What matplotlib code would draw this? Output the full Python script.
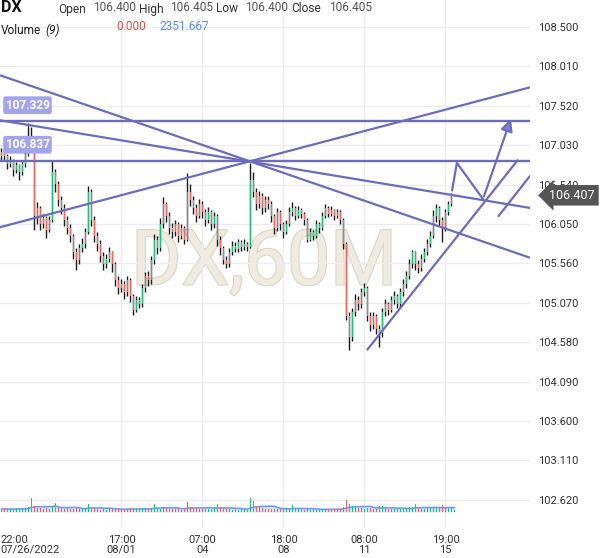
import numpy as np
import pandas as pd
import matplotlib
matplotlib.use("Agg")
import matplotlib.pyplot as plt
import matplotlib.patheffects as pe
from matplotlib.patches import FancyArrowPatch
from matplotlib.transforms import ScaledTranslation

plt.rcParams['font.family'] = ['Roboto', 'DejaVu Sans']

# DX 60-minute candles (one entry per bar)
first_open = 106.90
closes = [106.95, 106.90, 106.80, 106.85, 106.72, 106.78, 106.70, 106.80, 106.92, 107.15,
          107.12, 106.15, 106.25, 106.05, 106.12, 105.98, 106.10, 106.70, 106.55, 106.35,
          106.25, 106.10, 106.00, 105.90, 105.70, 105.60, 105.75, 105.80, 105.95, 106.45,
          106.10, 105.90, 105.80, 105.65, 105.55, 105.62, 105.70, 105.55, 105.35, 105.25,
          105.30, 105.20, 105.35, 105.15, 104.98, 105.10, 105.05, 105.25, 105.40, 105.35,
          105.60, 105.85, 105.75, 106.05, 106.30, 106.15, 106.00, 105.95, 106.05, 105.90,
          106.00, 105.85, 106.45, 106.35, 106.25, 106.15, 106.30, 106.20, 106.10, 106.20,
          106.05, 106.15, 105.85, 105.75, 105.60, 105.55, 105.70, 105.78, 105.74, 105.82,
          105.76, 105.80, 105.77, 106.60, 106.45, 106.30, 106.40, 106.25, 106.35, 106.30,
          106.15, 106.00, 106.20, 106.05, 105.95, 106.05, 106.20, 106.25, 106.15, 106.22,
          106.18, 106.10, 105.85, 105.95, 105.90, 106.05, 106.00, 106.15, 106.25, 106.18,
          106.22, 106.15, 106.20, 106.10, 105.80, 104.90, 104.65, 104.95, 105.10, 105.05,
          105.20, 105.25, 104.90, 104.80, 104.90, 104.75, 104.70, 104.95, 105.05, 104.98,
          105.10, 105.15, 105.05, 105.20, 105.30, 105.40, 105.55, 105.70, 105.55, 105.50,
          105.62, 105.70, 105.80, 105.90, 106.15, 106.25, 106.10, 106.00, 106.20, 106.30,
          106.40, 106.405]
highs = [107.00, 106.98, 106.92, 106.90, 106.86, 106.82, 106.80, 106.84, 106.98, 107.30,
         107.26, 107.14, 106.32, 106.28, 106.18, 106.15, 106.15, 106.84, 106.74, 106.58,
         106.40, 106.30, 106.15, 106.05, 105.92, 105.75, 105.80, 105.88, 106.00, 106.52,
         106.48, 106.15, 105.95, 105.85, 105.70, 105.68, 105.76, 105.72, 105.58, 105.40,
         105.36, 105.34, 105.40, 105.38, 105.18, 105.15, 105.14, 105.30, 105.45, 105.46,
         105.65, 105.92, 105.90, 106.12, 106.39, 106.32, 106.20, 106.06, 106.10, 106.08,
         106.05, 106.03, 106.68, 106.55, 106.40, 106.30, 106.36, 106.34, 106.24, 106.26,
         106.22, 106.20, 106.18, 105.90, 105.78, 105.65, 105.75, 105.84, 105.82, 105.86,
         105.85, 105.86, 105.83, 106.81, 106.70, 106.50, 106.46, 106.44, 106.40, 106.40,
         106.33, 106.18, 106.25, 106.22, 106.08, 106.10, 106.26, 106.32, 106.28, 106.27,
         106.25, 106.20, 106.12, 106.00, 105.98, 106.10, 106.08, 106.20, 106.30, 106.28,
         106.27, 106.24, 106.24, 106.22, 106.12, 105.82, 104.95, 105.00, 105.18, 105.15,
         105.26, 105.32, 105.28, 104.95, 104.96, 104.93, 104.80, 105.00, 105.12, 105.08,
         105.16, 105.22, 105.18, 105.25, 105.36, 105.46, 105.62, 105.73, 105.72, 105.60,
         105.68, 105.75, 105.86, 105.96, 106.22, 106.30, 106.28, 106.14, 106.24, 106.34,
         106.44, 106.405]
lows = [106.85, 106.84, 106.74, 106.76, 106.65, 106.68, 106.60, 106.66, 106.76, 106.90,
        107.02, 105.98, 106.05, 105.98, 106.00, 105.88, 105.95, 106.08, 106.45, 106.28,
        106.18, 106.02, 105.92, 105.82, 105.62, 105.48, 105.55, 105.70, 105.75, 105.92,
        106.02, 105.82, 105.72, 105.58, 105.48, 105.50, 105.58, 105.45, 105.28, 105.18,
        105.20, 105.12, 105.16, 105.08, 104.92, 104.95, 105.00, 105.02, 105.20, 105.28,
        105.30, 105.55, 105.68, 105.72, 106.00, 106.08, 105.93, 105.88, 105.90, 105.83,
        105.86, 105.80, 105.84, 106.28, 106.18, 106.08, 106.12, 106.12, 106.02, 106.06,
        105.98, 106.00, 105.78, 105.66, 105.55, 105.50, 105.52, 105.66, 105.70, 105.70,
        105.72, 105.73, 105.72, 105.75, 106.38, 106.22, 106.25, 106.18, 106.20, 106.24,
        106.08, 105.92, 105.96, 105.98, 105.88, 105.92, 106.02, 106.15, 106.10, 106.12,
        106.12, 106.04, 105.82, 105.84, 105.85, 105.88, 105.94, 105.98, 106.12, 106.14,
        106.15, 106.10, 106.12, 106.05, 105.74, 104.85, 104.48, 104.60, 104.90, 104.98,
        105.00, 105.15, 104.84, 104.72, 104.74, 104.68, 104.52, 104.65, 104.90, 104.92,
        104.95, 105.05, 105.00, 105.02, 105.16, 105.26, 105.36, 105.50, 105.48, 105.44,
        105.46, 105.58, 105.66, 105.76, 105.88, 106.08, 106.02, 105.83, 105.96, 106.16,
        106.28, 106.40]
volumes = [1400, 1800, 1200, 1600, 1300, 1900, 1500, 1700, 2200, 2600,
           7000, 3200, 2100, 1800, 1500, 1900, 1600, 3000, 4500, 2400,
           1800, 1500, 1900, 1400, 1700, 2100, 1600, 1300, 1800, 4000,
           2600, 1900, 1500, 1200, 1400, 1100, 1600, 1300, 1500, 1800,
           1400, 1200, 1600, 1900, 1500, 1300, 1700, 2000, 1600, 1400,
           2200, 3800, 2000, 1700, 2500, 1900, 1500, 1300, 1600, 1400,
           1200, 1500, 4800, 2600, 2200, 1800, 1500, 1300, 1600, 1400,
           1700, 2400, 4000, 2300, 1800, 1500, 1300, 1200, 1400, 1100,
           1300, 1500, 1600, 6800, 5500, 3000, 2400, 2000, 1700, 1500,
           1400, 1600, 1300, 1500, 1800, 1400, 1600, 3500, 1900, 1500,
           1300, 1200, 1400, 1100, 1300, 1200, 1500, 1400, 1600, 1300,
           1200, 1400, 1300, 1500, 2400, 6000, 4200, 3000, 2400, 2000,
           1800, 1600, 2200, 1900, 1700, 1500, 3200, 2800, 2000, 1700,
           1500, 1400, 1600, 1500, 1700, 1900, 2300, 2700, 4200, 2000,
           1700, 1600, 1800, 2000, 2400, 2200, 1800, 3500, 2300, 2000,
           2400, 900]

# x-axis labels (bar index -> label)
tick_idx = [4, 40, 67, 94, 121, 148]
tick_text = ['22:00\n07/26/2022', '17:00\n08/01', '07:00\n04', '18:00\n08', '08:00\n11', '19:00\n15']
price_ticks = [102.62, 103.11, 103.60, 104.09, 104.58, 105.07, 105.56, 106.05,
               106.54, 107.03, 107.52, 108.01, 108.50]

# drawn objects: horizontal levels and trend lines (bar index, price)
levels = [107.329, 106.837]
trend_lines = [
    ((-0.5, 107.90), (176.2, 105.63)),
    ((-0.5, 107.34), (176.2, 106.25)),
    ((-0.5, 106.01), (176.2, 107.75)),
    ((121.8, 104.48), (172.2, 106.85)),
    ((165.5, 106.14), (176.2, 106.65)),
]
path_pts = [(150.2, 106.47), (151.8, 106.81), (160.5, 106.36), (170.1, 107.39)]
last_price = 106.407

LINE = '#6c6cba'
UP = '#1fbf7a'
DOWN = '#f0675e'

fig = plt.figure(figsize=(6, 5.58), dpi=100)
ax = fig.add_axes([0, 30 / 558, 530 / 600, 528 / 558])

o = np.array([first_open] + closes[:-1])
c = np.array(closes)
h = np.array(highs)
l = np.array(lows)
x = np.arange(len(c))
up = c >= o
cols = np.where(up, UP, DOWN)

ax.vlines(x, l, h, color='#1a1a1a', lw=1.0, zorder=2)
ax.bar(x, np.maximum(np.abs(c - o), 0.012), bottom=np.minimum(o, c),
       width=0.55, color=cols, zorder=3)

ax.set_xlim(-0.5, 176.17)
ax.set_ylim(102.269, 108.836)

# watermark
ax.text(0.498, 0.50, 'DX,60M', transform=ax.transAxes, fontsize=55,
        color='#efebe1', ha='center', va='center', zorder=0.2,
        path_effects=[pe.withStroke(linewidth=1.6, foreground='#ddd5c2')])

# levels + labels
for lv in levels:
    ax.axhline(lv, color=LINE, lw=1.7, zorder=4)
    ax.annotate(f'{lv:.3f}', xy=(0, lv), xycoords=('axes fraction', 'data'),
                xytext=(4, 11.5), textcoords='offset points', ha='left', va='center',
                fontsize=8.5, color='white', fontweight='bold', zorder=6,
                bbox=dict(boxstyle='round,pad=0.2', fc='#a3a3ee', ec='none'))

for (x0, y0), (x1, y1) in trend_lines:
    ax.plot([x0, x1], [y0, y1], color=LINE, lw=1.6, zorder=4, solid_capstyle='butt')

px, py = zip(*path_pts)
ax.plot(px[:-1], py[:-1], color=LINE, lw=1.6, zorder=4)
ax.add_patch(FancyArrowPatch(path_pts[-2], path_pts[-1], arrowstyle='-|>',
                             mutation_scale=18, lw=1.6, color=LINE, fc='#8383cf', zorder=4))

# axes styling
ax.set_axisbelow(True)
for s in ax.spines.values():
    s.set_visible(False)
ax.yaxis.tick_right()
ax.set_yticks(price_ticks)
ax.set_yticklabels([f'{p:.3f}' for p in price_ticks])
ax.set_xticks(tick_idx)
ax.set_xticklabels(tick_text)
ax.tick_params(length=0, labelsize=8, colors='#333333')
ax.tick_params(axis='y', pad=6)
ax.tick_params(axis='x', pad=5)
for lbl in ax.get_xticklabels():
    lbl.set_linespacing(0.95)
# first date label sits flush with the left edge
first = ax.get_xticklabels()[0]
first.set_horizontalalignment('left')
first.set_multialignment('left')
first.set_transform(first.get_transform() + ScaledTranslation(-0.135, 0, fig.dpi_scale_trans))
ax.grid(True, color='#ececec', lw=1)
ax.get_xgridlines()[0].set_visible(False)

# last price tag
ax.annotate(f'{last_price:.3f}', xy=(1, last_price), xycoords=('axes fraction', 'data'),
            xytext=(14, 0), textcoords='offset points', ha='left', va='center',
            fontsize=9, color='white', zorder=10, annotation_clip=False,
            bbox=dict(boxstyle='larrow,pad=0.3', fc='#555555', ec='none'))

# volume overlay
vax = fig.add_axes(ax.get_position(), sharex=ax)
vax.patch.set_visible(False)
vax.axis('off')
vol = np.array(volumes, dtype=float)
vmax = vol.max()
vax.set_ylim(-16 / 14 * vmax, (528 - 16) / 14 * vmax)
vax.bar(x, vol, width=0.5, color=cols, zorder=3)
ma = pd.Series(vol).rolling(9, min_periods=1).mean()
vax.fill_between(x, ma, 0, color='#aac2f4', alpha=0.45, lw=0, zorder=2)
vax.plot(x, ma, color='#6f9bf0', lw=1.2, zorder=2.5)

# header
def ftext(px_, py_, s, **kw):
    fig.text(px_ / 600, 1 - py_ / 558, s, va='center', **kw)

ftext(1, 8, 'DX', fontsize=11.5, fontweight='bold', color='#111111')
for xp, s in [(58, 'Open'), (139, 'High'), (216, 'Low'), (291, 'Close')]:
    ftext(xp, 9, s, fontsize=8.6, color='#333333')
for xp, s in [(93, '106.400'), (170, '106.405'), (245, '106.400'), (329, '106.405')]:
    ftext(xp, 7.5, s, fontsize=8.6, color='#555555')
ftext(1, 30, 'Volume', fontsize=8.6, color='#222222')
ftext(45, 30, '(9)', fontsize=8.6, color='#222222', style='italic')
ftext(116, 27, '0.000', fontsize=8.6, color='#e2514c')
ftext(160, 27, '2351.667', fontsize=8.6, color='#5b8def')

fig.savefig('out.png', dpi=100)
